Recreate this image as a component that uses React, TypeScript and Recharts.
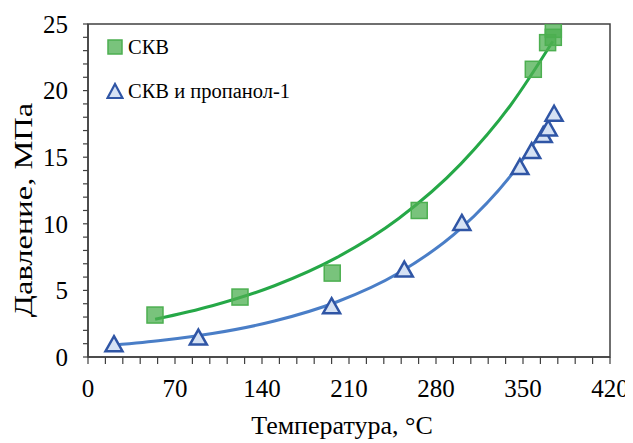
import {
  ComposedChart,
  Scatter,
  Line,
  XAxis,
  YAxis,
  ReferenceArea,
  Legend,
  Label,
} from "recharts";

// температура, °C и давление, МПа
const skvT = [53.9, 122.3, 196.5, 266.5, 358.3, 369.8, 374.4, 374.4];
const skvP = [3.15, 4.5, 6.3, 11.0, 21.6, 23.6, 24.0, 24.6];

const propT = [20.9, 88.8, 196, 254.5, 300.8, 347.5, 357, 366.3, 370.3, 375];
const propP = [1.0, 1.5, 3.85, 6.6, 10.1, 14.3, 15.5, 16.7, 17.2, 18.3];

// линии тренда
const skvTrendT = [54, 100, 150, 200, 250, 300, 340, 374];
const skvTrendP = [2.83, 3.85, 5.35, 7.46, 10.4, 14.5, 18.9, 23.7];
const propTrendT = [21, 60, 100, 150, 200, 250, 300, 340, 375];
const propTrendP = [0.9, 1.26, 1.76, 2.7, 4.13, 6.31, 9.65, 13.6, 18.3];

const xMajorTicks = [0, 70, 140, 210, 280, 350, 420];
const yMajorTicks = [0, 5, 10, 15, 20, 25];
const xMinorStep = 14;
const yMinorStep = 1;

const seriesNames = ["СКВ", "СКВ и пропанол-1"];
const xTitle = "Температура, °C";
const yTitle = "Давление, МПа";

const FONT = "Liberation Serif";
const AXIS = "#404040";
const GREEN = "#4CAF50";
const GREEN_LINE = "#25A847";
const BLUE = "#2F55A5";
const BLUE_LINE = "#4A7EC7";
const BLUE_FILL = "#D6E2F4";

const toPoints = (xs: number[], ys: number[]) =>
  xs.map((x, i) => ({ x, y: ys[i] }));

const steps = (max: number, step: number) => {
  const out: number[] = [];
  for (let v = 0; v <= max + 1e-9; v += step) out.push(Math.round(v * 100) / 100);
  return out;
};

const xTicks = steps(xMajorTicks[xMajorTicks.length - 1], xMinorStep);
const yTicks = steps(yMajorTicks[yMajorTicks.length - 1], yMinorStep);

const Square = (props: any) => {
  const { cx, cy } = props;
  const s = 16;
  return (
    <rect
      x={cx - s / 2}
      y={cy - s / 2}
      width={s}
      height={s}
      fill={GREEN}
      fillOpacity={0.75}
      stroke={GREEN}
      strokeWidth={1.5}
    />
  );
};

const Triangle = (props: any) => {
  const { cx, cy } = props;
  const w = 17;
  const h = 15;
  return (
    <polygon
      points={`${cx},${cy - h / 2} ${cx + w / 2},${cy + h / 2} ${cx - w / 2},${cy + h / 2}`}
      fill={BLUE_FILL}
      stroke={BLUE}
      strokeWidth={2.5}
      strokeLinejoin="miter"
    />
  );
};

const XTick = ({ x, y, payload }: any) => {
  if (!xMajorTicks.includes(payload.value)) return <g />;
  return (
    <text x={x} y={y} dy="0.71em" textAnchor="middle" style={{ fontFamily: FONT }} fontSize={25} fill="#000">
      {payload.value}
    </text>
  );
};

const YTick = ({ x, y, payload }: any) => {
  if (!yMajorTicks.includes(payload.value)) return <g />;
  return (
    <text x={x} y={y} dy="0.35em" textAnchor="end" style={{ fontFamily: FONT }} fontSize={25} fill="#000">
      {payload.value}
    </text>
  );
};

const renderLegend = () => (
  <div style={{ fontFamily: FONT, fontSize: 20.5, color: "#000" }}>
    {seriesNames.map((name, i) => (
      <div key={name} style={{ height: 44, display: "flex", alignItems: "center" }}>
        <svg width={18} height={18} style={{ marginRight: 4 }}>
          {i === 0 ? (
            <rect x={2} y={2} width={14} height={14} fill={GREEN} fillOpacity={0.75} stroke={GREEN} strokeWidth={1.5} />
          ) : (
            <polygon points="9,2 16.5,16 1.5,16" fill={BLUE_FILL} stroke={BLUE} strokeWidth={2.2} />
          )}
        </svg>
        <span>{name}</span>
      </div>
    ))}
  </div>
);

export default function App() {
  return (
    <div style={{ width: 625, height: 435, fontFamily: FONT }}>
      <ComposedChart
        width={625}
        height={435}
        margin={{ top: 16, right: 23, bottom: 26, left: 20 }}
      >
        <ReferenceArea x1={0} x2={420} y1={0} y2={25} fill="none" stroke={AXIS} strokeWidth={1.5} />
        <XAxis
          dataKey="x"
          type="number"
          domain={[0, 420]}
          ticks={xTicks}
          interval={0}
          tickSize={7}
          tickMargin={15}
          height={60}
          axisLine={{ stroke: AXIS, strokeWidth: 1.5 }}
          tickLine={{ stroke: AXIS, strokeWidth: 1.2 }}
          tick={<XTick />}
          allowDataOverflow
        >
          <Label
            content={() => (
              <text x={334} y={426} textAnchor="middle" style={{ fontFamily: FONT }} fontSize={26} fill="#000">
                {xTitle}
              </text>
            )}
          />
        </XAxis>
        <YAxis
          dataKey="y"
          type="number"
          domain={[0, 25]}
          ticks={yTicks}
          interval={0}
          tickSize={5}
          tickMargin={15}
          width={60}
          axisLine={{ stroke: AXIS, strokeWidth: 1.5 }}
          tickLine={{ stroke: AXIS, strokeWidth: 1.2 }}
          tick={<YTick />}
          allowDataOverflow
        >
          <Label
            content={() => (
              <text
                x={0}
                y={0}
                transform="translate(24, 202) rotate(-90) scale(1, 0.78)"
                textAnchor="middle"
                style={{ fontFamily: FONT }}
                fontSize={32.5}
                fill="#000"
              >
                {yTitle}
              </text>
            )}
          />
        </YAxis>
        <Legend
          layout="vertical"
          align="center"
          verticalAlign="middle"
          wrapperStyle={{ left: 98, top: 17, width: 300 }}
          content={renderLegend}
        />
        <Scatter
          name={seriesNames[0]}
          data={toPoints(skvT, skvP)}
          shape={<Square />}
          isAnimationActive={false}
        />
        <Scatter
          name={seriesNames[1]}
          data={toPoints(propT, propP)}
          shape={<Triangle />}
          isAnimationActive={false}
        />
        <Line
          data={toPoints(skvTrendT, skvTrendP)}
          dataKey="y"
          type="monotone"
          stroke={GREEN_LINE}
          strokeWidth={3}
          dot={false}
          activeDot={false}
          legendType="none"
          isAnimationActive={false}
        />
        <Line
          data={toPoints(propTrendT, propTrendP)}
          dataKey="y"
          type="monotone"
          stroke={BLUE_LINE}
          strokeWidth={3}
          dot={false}
          activeDot={false}
          legendType="none"
          isAnimationActive={false}
        />
      </ComposedChart>
    </div>
  );
}
